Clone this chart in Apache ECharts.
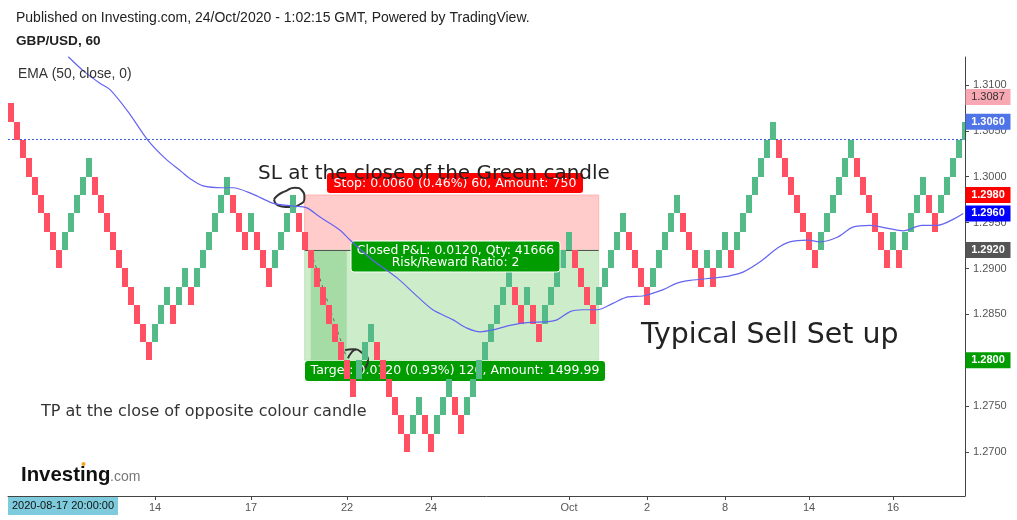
<!DOCTYPE html>
<html><head><meta charset="utf-8">
<style>html,body{margin:0;padding:0;background:#fff}#c{width:1017px;height:520px}</style>
<script src="https://cdn.jsdelivr.net/npm/echarts@6/dist/echarts.min.js"></script>
</head><body><div id="c"></div>
<script>
const brickClose = [1.3060,1.3040,1.3020,1.3000,1.2980,1.2960,1.2940,1.2920,1.2900,1.2940,
1.2960,1.2980,1.3000,1.3020,1.2980,1.2960,1.2940,1.2920,1.2900,1.2880,
1.2860,1.2840,1.2820,1.2800,1.2840,1.2860,1.2880,1.2840,1.2880,1.2900,
1.2860,1.2900,1.2920,1.2940,1.2960,1.2980,1.3000,1.2960,1.2940,1.2920,
1.2960,1.2920,1.2900,1.2880,1.2920,1.2940,1.2960,1.2980,1.2940,1.2920,
1.2900,1.2880,1.2860,1.2840,1.2820,1.2800,1.2780,1.2760,1.2800,1.2820,
1.2840,1.2800,1.2780,1.2760,1.2740,1.2720,1.2700,1.2740,1.2760,1.2720,
1.2700,1.2740,1.2760,1.2780,1.2740,1.2720,1.2760,1.2780,1.2800,1.2820,
1.2840,1.2860,1.2880,1.2900,1.2860,1.2840,1.2880,1.2840,1.2820,1.2860,
1.2880,1.2900,1.2920,1.2940,1.2900,1.2880,1.2860,1.2840,1.2880,1.2900,
1.2920,1.2940,1.2960,1.2920,1.2900,1.2880,1.2860,1.2900,1.2920,1.2940,
1.2960,1.2980,1.2940,1.2920,1.2900,1.2880,1.2920,1.2880,1.2920,1.2940,
1.2900,1.2940,1.2960,1.2980,1.3000,1.3020,1.3040,1.3060,1.3020,1.3000,
1.2980,1.2960,1.2940,1.2920,1.2900,1.2940,1.2960,1.2980,1.3000,1.3020,
1.3040,1.3000,1.2980,1.2960,1.2940,1.2920,1.2900,1.2940,1.2900,1.2940,
1.2960,1.2980,1.3000,1.2960,1.2940,1.2980,1.3000,1.3020,1.3040,1.3060];
const firstOpen = 1.3080;
const brickSize = 0.0020;

const emaX = [10,12.8,15.3,17,20,23.3,26.2,29,30.3,32.5,35.8,37.5,40.8,44.2,47.5,49.8,52,55.3,57,60.8,
64.8,68.3,70.8,74.2,76.5,78.7,80.8,83.7,86.5,89.8,91.5,93.7,95.8,98.2,100.8,103.3,105.8,109.2,111.5,113.7,
118.2,120.3,122.5,125.3,128.2,130.3,133.2,135.3,138.2,140.8,143.7,146.5,149.2,152.3,154.8,159.2];
const emaY = [1.3131,1.3114,1.3102,1.3095,1.3071,1.3040,1.3020,1.3005,1.2998,1.2990,1.2988,1.2988,1.2981,1.2971,1.2968,1.2966,1.2956,1.2942,1.2931,1.2909,
1.2890,1.2869,1.2855,1.2844,1.2835,1.2831,1.2833,1.2838,1.2841,1.2842,1.2844,1.2853,1.2855,1.2855,1.2862,1.2869,1.2870,1.2877,1.2884,1.2887,
1.2890,1.2892,1.2896,1.2907,1.2922,1.2929,1.2931,1.2929,1.2934,1.2945,1.2947,1.2944,1.2941,1.2947,1.2947,1.2960];

const xTickBrick = [24,40,56,70,93,106,119,133,147];
const xTickLabel = ['14','17','22','24','Oct','2','8','14','16'];
const yTicks = [1.27,1.275,1.28,1.285,1.29,1.295,1.30,1.305,1.31];

const badgePrice = [1.3087,1.3060,1.2980,1.2960,1.2920,1.2800];
const badgeFill  = ['#f7a8b2','#4f74e8','#ff0000','#0000ff','#555555','#009c00'];
const badgeText  = ['#333333','#ffffff','#ffffff','#ffffff','#ffffff','#ffffff'];

const priceLine = 1.30405;
const zoneX = [49.45,98.45];
const zoneStop = 1.2980, zoneEntry = 1.2920, zoneTarget = 1.2800;
const heldX = [50.45,56.45];
const tradePathX = [50.5,56.3], tradePathY = [1.2918,1.2805];

const inkCircleX = [44.33,45,46.17,47.83,49,49.4,48.67,47,45.33,44.33];
const inkCircleY = [1.2975,1.2980,1.2984,1.2988,1.2985,1.2977,1.2970,1.2967,1.2968,1.2975];
const inkArcX = [56.17,57.5,59.17,60,59.67,58.33];
const inkArcY = [1.2811,1.2812,1.2807,1.2800,1.2793,1.2789];
const inkStemX = [56.67,57.33,58];
const inkStemY = [1.2802,1.2809,1.2812];

const xMin = 0, xMax = 159.5, yMin = 1.2652, yMax = 1.31305;
const zip = (a,b)=>a.map((v,i)=>[v,b[i]]);
const bricks = brickClose.map((c,i)=>{
  const prev = i ? brickClose[i-1] : firstOpen;
  return [i, i+1, c > prev ? c - brickSize : c + brickSize, c];
});
const DV = '"DejaVu Sans"', LS = '"Liberation Sans"';
const ink = (name,x,y)=>({name,type:'line',z:2,data:zip(x,y),smooth:0.6,symbol:'none',silent:true,
  lineStyle:{color:'#333333',width:2}});

function renderBrick(params, api){
  const a = api.coord([api.value(0), api.value(2)]);
  const b = api.coord([api.value(1), api.value(3)]);
  const up = api.value(3) > api.value(2);
  const top = Math.round(Math.min(a[1],b[1])), bot = Math.round(Math.max(a[1],b[1]));
  const shape = echarts.graphic.clipRectByRect(
    {x:a[0], y:top, width:b[0]-a[0], height:bot-top},
    {x:params.coordSys.x, y:params.coordSys.y, width:params.coordSys.width, height:params.coordSys.height});
  return shape && {type:'rect', shape, style:{fill: up ? '#54ba88' : '#ff5064'}};
}

const chart = echarts.init(document.getElementById('c'),null,{renderer:'canvas'});
chart.setOption({
  animation:false,
  backgroundColor:'#ffffff',
  grid:{left:8,right:52,top:57,bottom:24,containLabel:false},
  tooltip:{show:false},
  xAxis:{type:'value',min:xMin,max:xMax,splitLine:{show:false},
    axisLine:{show:true,onZero:false,lineStyle:{color:'#444444',width:1}},
    axisTick:{show:true,length:4,lineStyle:{color:'#444444'},customValues:xTickBrick.map(i=>i+0.5)},
    axisLabel:{show:true,customValues:xTickBrick.map(i=>i+0.5),color:'#555555',fontFamily:LS,fontSize:11,margin:6,
      formatter:v=>xTickLabel[xTickBrick.indexOf(v-0.5)]}},
  yAxis:{type:'value',position:'right',min:yMin,max:yMax,scale:true,splitLine:{show:false},
    axisLine:{show:true,onZero:false,lineStyle:{color:'#444444',width:1}},
    axisTick:{show:true,length:4,lineStyle:{color:'#444444'},customValues:yTicks},
    axisLabel:{show:true,customValues:yTicks,color:'#555555',fontFamily:LS,fontSize:11,margin:8,
      formatter:v=>v.toFixed(4)}},
  series:[
    {name:'zones',type:'line',z:1,data:[],silent:true,
      markArea:{silent:true,z:1,data:[
        [{xAxis:zoneX[0],yAxis:zoneStop,itemStyle:{color:'#ffcbcb',borderColor:'#ffb4b4',borderWidth:1}},{xAxis:zoneX[1],yAxis:zoneEntry}],
        [{xAxis:zoneX[0],yAxis:zoneEntry,itemStyle:{color:'#cdecca',borderColor:'#bfe6bc',borderWidth:1}},{xAxis:zoneX[1],yAxis:zoneTarget}],
        [{xAxis:heldX[0],yAxis:zoneEntry,itemStyle:{color:'#a5dca5'}},{xAxis:heldX[1],yAxis:zoneTarget}]
      ]},
      markLine:{silent:true,z:1.2,symbol:'none',label:{show:false},data:[
        [{coord:[zoneX[0],zoneEntry],lineStyle:{color:'#555555',width:1,type:'solid'}},{coord:[zoneX[1],zoneEntry]}],
        [{coord:[xMin,priceLine],lineStyle:{color:'#3f5fd0',width:1,type:[2,2]}},{coord:[xMax,priceLine]}]
      ]}},
    {name:'path',type:'line',z:1.5,data:zip(tradePathX,tradePathY),symbol:'none',silent:true,
      lineStyle:{color:'#666666',width:1,type:[3,4]}},
    ink('inkArc',inkArcX,inkArcY),
    ink('inkStem',inkStemX,inkStemY),
    {name:'GBP/USD',type:'custom',z:3,clip:true,silent:true,renderItem:renderBrick,
      encode:{x:[0,1],y:[2,3]},data:bricks},
    {name:'EMA (50, close, 0)',type:'line',z:5,data:zip(emaX,emaY),symbol:'none',smooth:0.3,clip:true,silent:true,
      lineStyle:{color:'#6464f0',width:1.2}},
    ink('inkCircle',inkCircleX,inkCircleY),
    {name:'badges',type:'line',z:8,data:[],silent:true,
      markLine:{silent:true,z:8,symbol:'none',clip:false,
        data:badgePrice.map((p,i)=>{
          const label={show:true,opacity:1,position:'end',distance:1,offset:[22,0],formatter:p.toFixed(4),
            backgroundColor:badgeFill[i],color:badgeText[i],fontWeight:i?'bold':'normal',fontFamily:LS,fontSize:11,
            width:45,height:16,lineHeight:16,align:'center',verticalAlign:'middle'};
          const lineStyle={color:'transparent',width:0,opacity:1};
          return [{coord:[xMin,p],label,lineStyle},{coord:[xMax,p],label,lineStyle}];
        })}}
  ],
  graphic:[
    {type:'text',left:16,top:11,z:9,style:{text:'Published on Investing.com, 24/Oct/2020 - 1:02:15 GMT, Powered by TradingView.',font:'14px '+LS,fill:'#222222'}},
    {type:'text',left:16,top:34,z:9,style:{text:'GBP/USD, 60',font:'bold 13.6px '+LS,fill:'#222222'}},
    {type:'text',left:18,top:67,z:9,style:{text:'EMA (50, close, 0)',font:'13.8px '+LS,fill:'#333333'}},

    {type:'rect',z:2,shape:{x:327,y:173,width:256,height:20,r:3},style:{fill:'#ff0000'}},
    {type:'text',z:2.1,x:455,y:184,style:{text:'Stop: 0.0060 (0.46%) 60, Amount: 750',font:'12.5px '+DV,fill:'#ffffff',align:'center',verticalAlign:'middle'}},
    {type:'rect',z:2,shape:{x:305,y:361,width:300,height:20,r:3},style:{fill:'#009c00'}},
    {type:'text',z:2.1,x:455,y:371,style:{text:'Target: 0.0120 (0.93%) 120, Amount: 1499.99',font:'12.5px '+DV,fill:'#ffffff',align:'center',verticalAlign:'middle'}},
    {type:'rect',z:4,shape:{x:351,y:241,width:209,height:31,r:3},style:{fill:'#009c00',stroke:'#ffffff',lineWidth:1}},
    {type:'text',z:4.1,x:455.5,y:251,style:{text:'Closed P&L: 0.0120, Qty: 41666',font:'12.4px '+DV,fill:'#ffffff',align:'center',verticalAlign:'middle'}},
    {type:'text',z:4.1,x:455.5,y:263,style:{text:'Risk/Reward Ratio: 2',font:'12.4px '+DV,fill:'#ffffff',align:'center',verticalAlign:'middle'}},

    {type:'text',z:9,x:258,y:174,style:{text:'SL at the close of the Green candle',font:'20px '+DV,fill:'#222222',verticalAlign:'middle'}},
    {type:'text',z:9,x:641,y:336,style:{text:'Typical Sell Set up',font:'28.4px '+DV,fill:'#222222',verticalAlign:'middle'}},
    {type:'text',z:9,x:41,y:412,style:{text:'TP at the close of opposite colour candle',font:'16px '+DV,fill:'#333333',verticalAlign:'middle'}},

    {type:'text',z:9,x:21,y:475,style:{text:'Investing',font:'bold 20.4px '+LS,fill:'#111111',verticalAlign:'middle'}},
    {type:'text',z:9,x:110,y:477,style:{text:'.com',font:'14px '+LS,fill:'#777777',verticalAlign:'middle'}},
    {type:'circle',z:9,shape:{cx:83.5,cy:464,r:2},style:{fill:'#f5a623'}},

    {type:'rect',z:9,shape:{x:8,y:497,width:110,height:18},style:{fill:'#7dcbdc'}},
    {type:'text',z:9.1,x:63,y:506,style:{text:'2020-08-17 20:00:00',font:'11px '+LS,fill:'#111111',align:'center',verticalAlign:'middle'}}
  ]
});
</script></body></html>
